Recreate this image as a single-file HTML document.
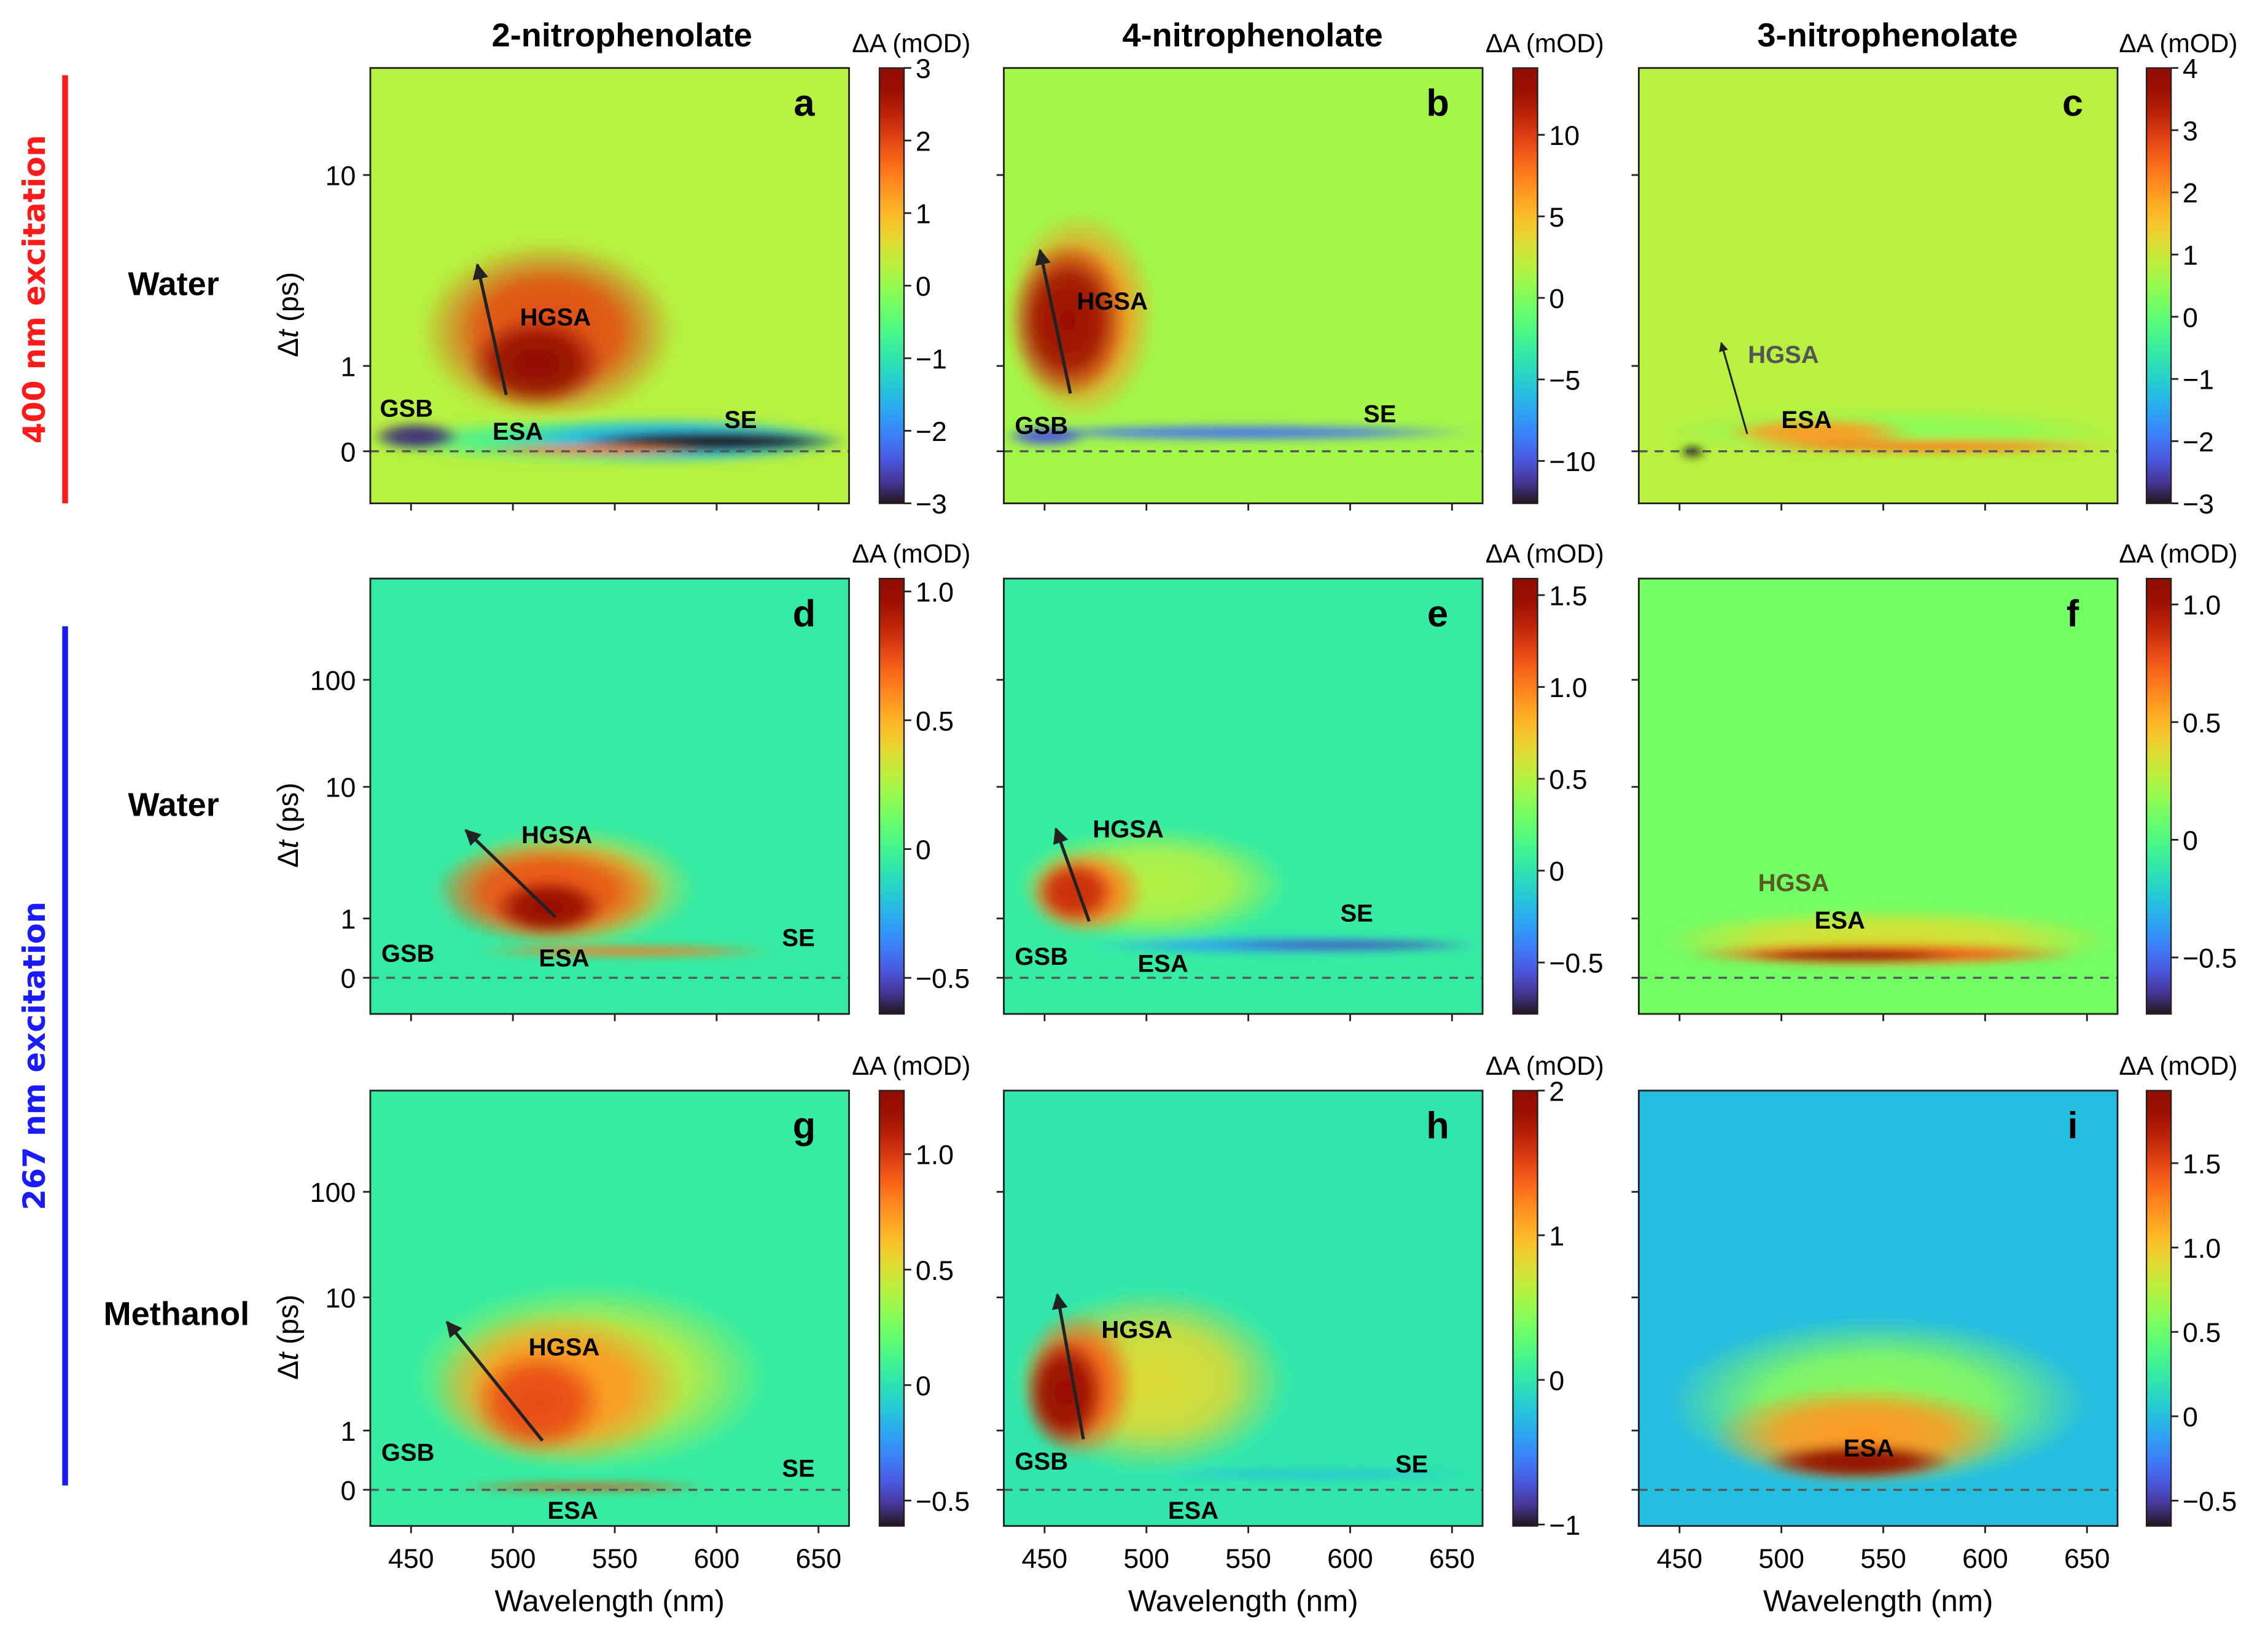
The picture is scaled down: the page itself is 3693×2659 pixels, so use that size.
<!DOCTYPE html>
<html><head><meta charset="utf-8"><style>
html,body{margin:0;padding:0;background:#fff}
svg{display:block}
text{font-family:"Liberation Sans",Arial,sans-serif}
</style></head><body>
<svg id="fig" xmlns="http://www.w3.org/2000/svg" width="3693" height="2659" viewBox="0 0 1568 1129">
<defs>
<filter id="soft" x="-20%" y="-20%" width="140%" height="140%"><feGaussianBlur stdDeviation="3"/></filter>
<marker id="ah" viewBox="0 0 10 10" refX="9" refY="5" markerWidth="5" markerHeight="6" orient="auto" markerUnits="strokeWidth"><path d="M0,0 L10,5 L0,10 z" fill="#222"/></marker>
</defs>
<g id="root"></g>
<text x="430" y="32" font-size="23" font-weight="bold" text-anchor="middle">2-nitrophenolate</text>
<text x="866" y="32" font-size="23" font-weight="bold" text-anchor="middle">4-nitrophenolate</text>
<text x="1305" y="32" font-size="23" font-weight="bold" text-anchor="middle">3-nitrophenolate</text>
<rect x="43" y="52" width="4" height="296" fill="#ff1a1a"/>
<text transform="translate(31,200) rotate(-90)" font-size="21" font-weight="bold" fill="#ff1a1a" text-anchor="middle" style="font-family:'DejaVu Sans',sans-serif">400 nm excitation</text>
<rect x="43" y="433" width="4" height="594" fill="#1a1aff"/>
<text transform="translate(31,730) rotate(-90)" font-size="21" font-weight="bold" fill="#1a1aff" text-anchor="middle" style="font-family:'DejaVu Sans',sans-serif">267 nm excitation</text>
<text x="120" y="204" font-size="23" font-weight="bold" text-anchor="middle">Water</text>
<text x="120" y="564" font-size="23" font-weight="bold" text-anchor="middle">Water</text>
<text x="122" y="916" font-size="23" font-weight="bold" text-anchor="middle">Methanol</text>
</svg>
<script>
const NS='http://www.w3.org/2000/svg';
const panelBg=[0.25,1.2,0.8,-0.05,0.05,0.1,0.05,0.0,0.0];
const cbMin=[-3,-12.6,-3,-0.64,-0.78,-0.74,-0.61,-1.01,-0.65];
const cbMax=[3,14.1,4,1.05,1.59,1.11,1.275,2.0,1.93];
const cbTicksA=[-3,-2,-1,0,1,2,3];
const cbTicksB=[-10,-5,0,5,10];
const cbTicksC=[-3,-2,-1,0,1,2,3,4];
const cbTicksD=[-0.5,0,0.5,1.0];
const cbTicksE=[-0.5,0,0.5,1.0,1.5];
const cbTicksF=[-0.5,0,0.5,1.0];
const cbTicksG=[-0.5,0,0.5,1.0];
const cbTicksH=[-1,0,1,2];
const cbTicksI=[-0.5,0,0.5,1.0,1.5];
const xTicks=[450,500,550,600,650];
const yTicksRow1=[0,1,10];
const yTicksRow23=[0,1,10,100];
const blobPanel=[0,0,0,0,0,0,0, 1,1,1,1, 2,2,2,2, 3,3,3,3,3, 4,4,4,4,4, 5,5,5, 6,6,6,6, 7,7,7,7, 8,8,8];
const blobWlLo=[430,455,478,430,490,530,480, 430,433,430,430, 440,470,480,450, 465,460,490,480,430, 436,440,445,470,530, 440,450,480, 450,460,480,470, 435,438,440,500, 445,465,490];
const blobWlHi=[665,580,545,475,665,665,600, 505,490,665,472, 665,565,665,463, 590,575,545,630,470, 570,500,485,665,665, 665,650,590, 625,585,545,600, 570,495,480,665, 650,615,585];
const blobTLo=[-0.15,0.35,0.5,0.0,-0.15,-0.02,-0.05, 0.35,0.6,0.12,0.05, -0.05,0.05,-0.03,-0.08, 0.5,0.55,0.7,0.35,0.35, 0.6,0.7,0.9,0.4,0.48, 0.12,0.2,0.25, 0.3,0.4,0.6,-0.02, 0.3,0.5,0.7,0.18, 0.05,0.1,0.15];
const blobTHi=[0.4,4.5,1.8,0.35,0.4,0.25,0.08, 6.5,4.5,0.32,0.3, 0.5,0.4,0.15,0.08, 5,4,2,0.55,2, 5,3.5,2.8,0.7,0.62, 1.2,0.6,0.5, 14,8,4,0.12, 12,8,5,0.35, 7,2.2,0.8];
const blobAmp=[-0.8,2.0,3.0,-2.8,-1.6,-3.0,1.6, 7,13,-9,-10, 0.4,2.0,2.3,-3, 0.4,0.75,1.0,0.65,-0.05, 0.5,1.0,1.3,-0.3,-0.65, 0.35,0.75,1.05, 0.45,0.75,0.95,0.95, 0.8,1.4,1.9,-0.25, 0.6,1.2,1.9];
const annPanel=[0,0,0,0, 1,1,1, 2,2, 3,3,3,3, 4,4,4,4, 5,5, 6,6,6,6, 7,7,7,7, 8];
const annText=['GSB','ESA','HGSA','SE','GSB','HGSA','SE','HGSA','ESA','HGSA','GSB','ESA','SE','HGSA','GSB','ESA','SE','HGSA','ESA','HGSA','GSB','SE','ESA','HGSA','GSB','SE','ESA','ESA'];
const annX=[281,358,384,512, 720,769,954, 1233,1249, 385,282,390,552, 780,720,804,938, 1240,1272, 390,282,552,396, 786,720,976,825, 1292];
const annY=[288,304,225,296, 300,214,292, 251,296, 583,665,668,654, 579,667,672,637, 616,642, 937,1010,1021,1050, 925,1016,1018,1050, 1007];
const annColor=['#000','#000','#000','#000','#000','#000','#000','#555','#000','#000','#000','#000','#000','#000','#000','#000','#000','#5a5a22','#000','#000','#000','#000','#000','#000','#000','#000','#000','#000'];
const arrowX1=[350,740,1208,384,753,375,749];
const arrowY1=[273,272,300,634,637,996,995];
const arrowX2=[330,719,1190,322,730,309,731];
const arrowY2=[183,173,237,574,573,914,895];
const arrowW=[2.2,2.2,1.3,2.2,2.2,2.2,2.2];

const colLeft=[256,694,1133], colW=331;
const rowTop=[47,400,754], rowH=301;
const cbLeft=[608,1046,1484], cbW=17;
const rowAnch=[[312,253,121,-11],[676,635,544,470],[1030,989,897,824]];
const WL0=430, WL1=665;
function xOf(wl,c){return colLeft[c]+(wl-WL0)/(WL1-WL0)*colW;}
function yOf(t,r){const a=rowAnch[r];
  if(t<=1) return a[0]+t*(a[1]-a[0]);
  const lg=Math.log10(t);
  if(lg<=1) return a[1]+lg*(a[2]-a[1]);
  return a[2]+(lg-1)*(a[3]-a[2]);}
function turbo(x){x=Math.max(0,Math.min(1,x));
  const r=0.13572138+x*(4.61539260+x*(-42.66032258+x*(132.13108234+x*(-152.94239396+x*59.28637943))));
  const g=0.09140261+x*(2.19418839+x*(4.84296658+x*(-14.18503333+x*(4.27729857+x*2.82956604))));
  const b=0.10667330+x*(12.64194608+x*(-60.58204836+x*(110.36276771+x*(-89.90310912+x*27.34824973))));
  const f=v=>Math.round(255*Math.max(0,Math.min(1,v)));
  return 'rgb('+f(r)+','+f(g)+','+f(b)+')';}
function cmap(v,p){return turbo((v-cbMin[p])/(cbMax[p]-cbMin[p]));}
function mk(tag,attrs,parent){const e=document.createElementNS(NS,tag);for(const k in attrs)e.setAttribute(k,attrs[k]);parent.appendChild(e);return e;}
function txt(s,attrs,parent){const e=mk('text',attrs,parent);e.textContent=s;return e;}
const root=document.getElementById('root');
const defs=document.querySelector('defs');
const letters='abcdefghi';
const cbTicksAll=[cbTicksA,cbTicksB,cbTicksC,cbTicksD,cbTicksE,cbTicksF,cbTicksG,cbTicksH,cbTicksI];
function fmt(v,p){if(v===0)return '0';let s=((p==3||p==4||p==5||p==6||p==8))? v.toFixed(1):String(v);return s.replace('-','−');}
for(let p=0;p<9;p++){
  const r=Math.floor(p/3), c=p%3;
  const L=colLeft[c], T=rowTop[r];
  const g=mk('g',{},root);
  
  
  const cp=mk('clipPath',{id:'clip'+p},defs);
  mk('rect',{x:L,y:T,width:colW,height:rowH},cp);
  const bg=mk('rect',{x:L,y:T,width:colW,height:rowH,fill:cmap(panelBg[p],p)},g);
  
  
  const bl=mk('g',{'clip-path':'url(#clip'+p+')'},g);
  const inner=mk('g',{filter:'url(#soft)'},bl);
  for(let i=0;i<blobPanel.length;i++){ if(blobPanel[i]!==p) continue;
    const x1=xOf(blobWlLo[i],c), x2=xOf(blobWlHi[i],c);
    const y1=yOf(blobTHi[i],r), y2=yOf(blobTLo[i],r);
    const col=cmap(blobAmp[i],p);
    const gid='rg'+i;
    const rg=mk('radialGradient',{id:gid},defs);
    mk('stop',{offset:'0','stop-color':col,'stop-opacity':'1'},rg);
    mk('stop',{offset:'0.55','stop-color':col,'stop-opacity':'0.85'},rg);
    mk('stop',{offset:'1','stop-color':col,'stop-opacity':'0'},rg);
    const e=mk('ellipse',{cx:(x1+x2)/2,cy:(y1+y2)/2,rx:(x2-x1)/2,ry:Math.max(3,(y2-y1)/2),fill:'url(#'+gid+')'},inner);
    
    
  }
  const zl=mk('line',{x1:L,x2:L+colW,y1:yOf(0,r),y2:yOf(0,r),stroke:'#555','stroke-width':1.4,'stroke-dasharray':'6,5'},g);
  
  
  const fr=mk('rect',{x:L,y:T,width:colW,height:rowH,fill:'none',stroke:'#222','stroke-width':1.2},g);
  
  
  const lt=txt(letters[p],{x:L+colW-31,y:T+33,'font-size':26,'font-weight':'bold','text-anchor':'middle'},g);
  
  
  for(const v of xTicks){const x=xOf(v,c);
    mk('line',{x1:x,x2:x,y1:T+rowH,y2:T+rowH+5,stroke:'#222','stroke-width':1.2},g);
    if(r===2){const tl=txt(String(v),{x:x,y:T+rowH+29,'font-size':19,'text-anchor':'middle'},g);
      
      }}
  const yt=r===0?yTicksRow1:yTicksRow23;
  for(const v of yt){const y=yOf(v,r);
    mk('line',{x1:L-5,x2:L,y1:y,y2:y,stroke:'#222','stroke-width':1.2},g);
    if(c===0){const tl=txt(String(v),{x:L-10,y:y+7,'font-size':19,'text-anchor':'end'},g);
      
      }}
  if(c===0){const yl=txt('',{transform:'translate('+(L-50)+','+(T+rowH/2+20)+') rotate(-90)','font-size':20,'text-anchor':'middle'},g);
    yl.innerHTML='Δ<tspan font-style="italic">t</tspan> (ps)';
    
    }
  if(r===2){const xl=txt('Wavelength (nm)',{x:L+colW/2,y:T+rowH+59,'font-size':21,'text-anchor':'middle'},g);
    
    }
  const cx=cbLeft[c];
  const lg=mk('linearGradient',{id:'cbg'+p,x1:0,y1:1,x2:0,y2:0},defs);
  for(let k=0;k<=20;k++) mk('stop',{offset:k/20,'stop-color':turbo(k/20)},lg);
  const cb=mk('rect',{x:cx,y:T,width:cbW,height:rowH,fill:'url(#cbg'+p+')',stroke:'#222','stroke-width':1},g);
  
  
  for(const v of cbTicksAll[p]){const y=T+rowH-(v-cbMin[p])/(cbMax[p]-cbMin[p])*rowH;
    mk('line',{x1:cx+cbW,x2:cx+cbW+5,y1:y,y2:y,stroke:'#222','stroke-width':1.2},g);
    const tl=txt(fmt(v,p),{x:cx+cbW+8,y:y+7,'font-size':19},g);
    
    }
  const ct=txt('ΔA (mOD)',{x:cx+22,y:T-11,'font-size':18,'text-anchor':'middle'},g);
  
  
}
for(let i=0;i<annText.length;i++){
  const t=txt(annText[i],{x:annX[i],y:annY[i],'font-size':17,'font-weight':'bold','text-anchor':'middle',fill:annColor[i]},root);
  
  
}
for(let i=0;i<arrowX1.length;i++){
  const a=mk('line',{x1:arrowX1[i],y1:arrowY1[i],x2:arrowX2[i],y2:arrowY2[i],stroke:'#222','stroke-width':arrowW[i],'marker-end':'url(#ah)'},root);
  
  
}
</script>
</body></html>
